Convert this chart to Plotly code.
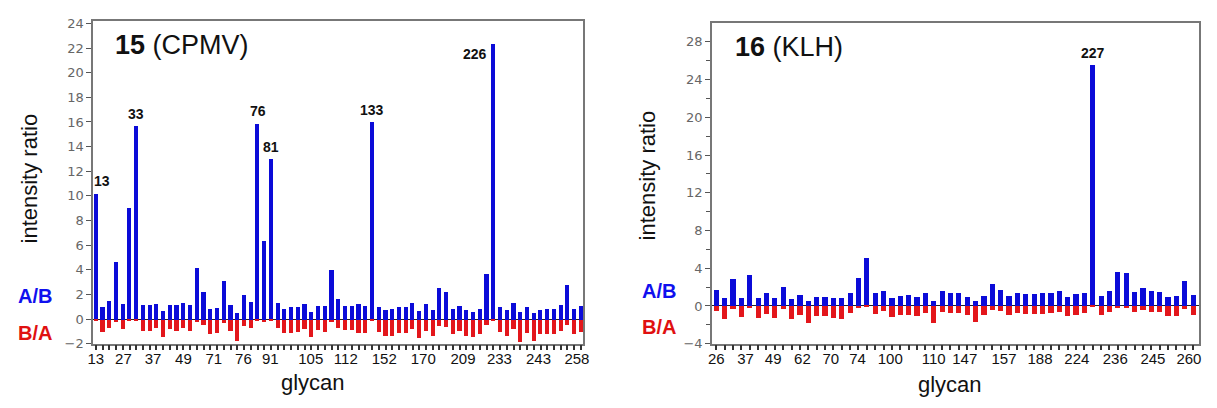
import plotly.graph_objects as go

# ---------------- data: panel 15 (CPMV) ----------------
cpmv_ab = [10.2, 1.03, 1.5, 4.65, 1.24, 9.05, 15.7, 1.16, 1.16, 1.24, 0.7, 1.2, 1.16, 1.37, 1.16,
           4.2, 2.24, 0.84, 0.9, 3.13, 1.2, 0.53, 1.97, 1.42, 15.9, 6.4, 13.0, 1.37, 0.85, 1.0,
           1.0, 1.3, 0.65, 1.13, 1.13, 4.0, 1.7, 1.13, 1.13, 1.3, 1.1, 16.0, 1.05, 0.8, 0.85,
           1.0, 1.0, 1.37, 0.7, 1.3, 0.8, 2.6, 2.2, 0.85, 1.1, 0.8, 0.65, 0.85, 3.7, 22.4,
           1.05, 0.8, 1.37, 0.6, 1.0, 0.55, 0.8, 0.85, 0.85, 1.2, 2.8, 0.85, 1.1]
cpmv_ba = [-0.1, -1.0, -0.7, -0.2, -0.8, -0.1, -0.1, -0.9, -0.9, -0.7, -1.4, -0.8, -0.9, -0.7, -0.9,
           -0.2, -0.4, -1.2, -1.1, -0.3, -0.9, -1.7, -0.5, -0.7, -0.1, -0.2, -0.1, -0.65, -1.1, -1.05,
           -1.0, -0.8, -1.45, -0.85, -1.0, -0.2, -0.65, -0.85, -0.85, -1.05, -1.05, -0.1, -1.0, -1.3, -1.3,
           -1.05, -1.05, -0.75, -1.5, -0.9, -1.3, -0.5, -0.6, -1.2, -0.9, -1.3, -1.45, -1.2, -0.4, -0.1,
           -1.0, -1.3, -0.75, -1.8, -1.05, -1.7, -1.2, -1.2, -1.2, -0.9, -0.45, -1.2, -1.0]
cpmv_ticklabels = ["13", "27", "37", "49", "71", "76", "91", "105", "112", "152", "170", "209", "233", "243", "258"]
cpmv_tickpos = [0, 4.1, 8.5, 13, 17.5, 21.9, 25.9, 31.9, 37.1, 42.8, 48.6, 54.5, 59.9, 65.7, 71.4]
cpmv_peak_idx = [0, 6, 24, 26, 41, 59]
cpmv_peak_labels = ["13", "33", "76", "81", "133", "226"]

# ---------------- data: panel 16 (KLH) ----------------
klh_ab = [1.6, 0.75, 2.8, 0.85, 3.2, 0.85, 1.3, 0.85, 2.0, 0.7, 1.1, 0.5, 0.9, 0.9, 0.85,
          0.75, 1.3, 2.9, 5.0, 1.3, 1.5, 0.8, 1.05, 1.1, 0.95, 1.3, 0.5, 1.5, 1.3, 1.3,
          0.95, 0.5, 1.05, 2.25, 1.7, 1.05, 1.3, 1.2, 1.2, 1.3, 1.35, 1.55, 0.93, 1.2, 1.3,
          25.5, 1.05, 1.5, 3.6, 3.4, 1.4, 1.9, 1.5, 1.4, 0.95, 1.05, 2.6, 1.1]
klh_ba = [-0.6, -1.4, -0.35, -1.2, -0.3, -1.35, -0.85, -1.35, -0.4, -1.45, -1.0, -1.8, -1.1, -1.1, -1.35,
          -1.45, -0.8, -0.3, -0.1, -0.9, -0.6, -1.2, -1.0, -1.0, -1.1, -0.75, -1.9, -0.7, -0.8, -0.8,
          -1.0, -1.7, -0.95, -0.45, -0.6, -1.0, -0.8, -0.85, -0.85, -0.85, -0.8, -0.7, -1.1, -0.95, -0.8,
          -0.05, -1.0, -0.7, -0.3, -0.3, -0.7, -0.5, -0.7, -0.7, -1.1, -1.1, -0.35, -0.95]
klh_ticklabels = ["26", "37", "49", "62", "70", "74", "100", "110", "147", "157", "188", "224", "236", "245", "260"]
klh_tickpos = [0, 3.5, 6.8, 10.3, 13.7, 16.9, 20.8, 26.0, 29.7, 34.4, 38.7, 43.1, 47.7, 52.2, 56.5]
klh_peak_idx = [45]
klh_peak_labels = ["227"]

BLUE = "#0b0bd8"
RED = "#e3161b"
FONT = "Arial, Liberation Sans, sans-serif"

fig = go.Figure()
for ab, ba, xa, ya in [(cpmv_ab, cpmv_ba, "x", "y"), (klh_ab, klh_ba, "x2", "y2")]:
    idx = list(range(len(ab)))
    fig.add_trace(go.Bar(x=idx, y=ab, marker_color=BLUE, marker_line_width=0, width=0.62,
                         xaxis=xa, yaxis=ya, showlegend=False))
    fig.add_trace(go.Bar(x=idx, y=ba, marker_color=RED, marker_line_width=0, width=0.62,
                         xaxis=xa, yaxis=ya, showlegend=False))

H = 408.0
common_x = dict(showline=True, mirror=True, linecolor="#777", linewidth=1.5, showgrid=False,
                zeroline=False, tickmode="array", ticks="", ticklabelstandoff=1,
                tickfont=dict(family=FONT, size=15, color="#111"),
                minor=dict(tickmode="linear", tick0=0, dtick=1, ticks="outside", ticklen=5,
                           tickcolor="#333", tickwidth=1.5))
common_y = dict(showline=True, mirror=True, linecolor="#777", linewidth=1.5, showgrid=False,
                zeroline=True, zerolinecolor="#222", zerolinewidth=1.2,
                ticks="outside", ticklen=5, tickcolor="#555",
                tickfont=dict(family="DejaVu Sans, sans-serif", size=13, color="#666"))

fig.update_layout(
    width=1217, height=408, margin=dict(l=0, r=0, t=0, b=0),
    paper_bgcolor="white", plot_bgcolor="white", barmode="overlay", bargap=0,
    xaxis=dict(common_x, domain=[88 / 1217, 583 / 1217], range=[-0.4, 72.34],
               tickvals=cpmv_tickpos, ticktext=cpmv_ticklabels, anchor="y"),
    yaxis=dict(common_y, domain=[(H - 350) / H, (H - 17) / H], range=[-2, 24.24],
               tickmode="linear", tick0=0, dtick=2, anchor="x"),
    xaxis2=dict(common_x, domain=[713 / 1217, 1205 / 1217], range=[-0.51, 57.72],
                tickvals=klh_tickpos, ticktext=klh_ticklabels, anchor="y2"),
    yaxis2=dict(common_y, domain=[(H - 350) / H, (H - 20) / H], range=[-4, 29.95],
                tickmode="linear", tick0=0, dtick=4, anchor="x2",
                minor=dict(tickmode="linear", tick0=0, dtick=2, ticks="outside", ticklen=4,
                           tickcolor="#555")),
)

ann = []
def paper(xpx, ypx):
    return xpx / 1217, 1 - ypx / H

# peak labels
for i, lab in zip(cpmv_peak_idx, cpmv_peak_labels):
    a = dict(x=i, y=cpmv_ab[i], xref="x", yref="y", text="<b>%s</b>" % lab, showarrow=False,
             font=dict(family=FONT, size=14, color="#111"), yanchor="middle", yshift=12)
    if lab == "13":
        a["xshift"] = 6
    if lab == "226":
        a.update(xanchor="right", xshift=-4, yshift=-11)
    ann.append(a)
for i, lab in zip(klh_peak_idx, klh_peak_labels):
    ann.append(dict(x=i, y=klh_ab[i], xref="x2", yref="y2", text="<b>%s</b>" % lab, showarrow=False,
                    font=dict(family=FONT, size=14, color="#111"), yanchor="middle", yshift=12))

# panel titles
for xpx, ypx, txt in [(108, 42, "<b>15</b> (CPMV)"), (734, 44, "<b>16</b> (KLH)")]:
    px, py = paper(xpx, ypx)
    ann.append(dict(x=px, y=py, xref="paper", yref="paper", text=txt, showarrow=False,
                    xanchor="left", yanchor="middle", font=dict(family=FONT, size=27, color="#111")))

# A/B, B/A
for xpx, y1, y2 in [(10, 301, 339), (640, 296, 333)]:
    px, py = paper(xpx, y1)
    ann.append(dict(x=px, y=py, xref="paper", yref="paper", text="<b>A/B</b>", showarrow=False,
                    xanchor="left", yanchor="middle", font=dict(family=FONT, size=20, color="#1010ee")))
    px, py = paper(xpx, y2)
    ann.append(dict(x=px, y=py, xref="paper", yref="paper", text="<b>B/A</b>", showarrow=False,
                    xanchor="left", yanchor="middle", font=dict(family=FONT, size=20, color="#e01010")))

# axis titles
for xpx, ypx in [(24, 180), (648, 177)]:
    px, py = paper(xpx, ypx)
    ann.append(dict(x=px, y=py, xref="paper", yref="paper", text="intensity ratio", showarrow=False,
                    textangle=-90, xanchor="center", yanchor="middle",
                    font=dict(family=FONT, size=22, color="#111")))
for xpx, ypx in [(310, 390), (953, 392)]:
    px, py = paper(xpx, ypx)
    ann.append(dict(x=px, y=py, xref="paper", yref="paper", text="glycan", showarrow=False,
                    xanchor="center", yanchor="middle", font=dict(family=FONT, size=22, color="#111")))

fig.update_layout(annotations=ann)
fig.write_html("out.html", config={"displayModeBar": False},
               post_script="document.body.style.margin='0';document.body.style.overflow='hidden';")
